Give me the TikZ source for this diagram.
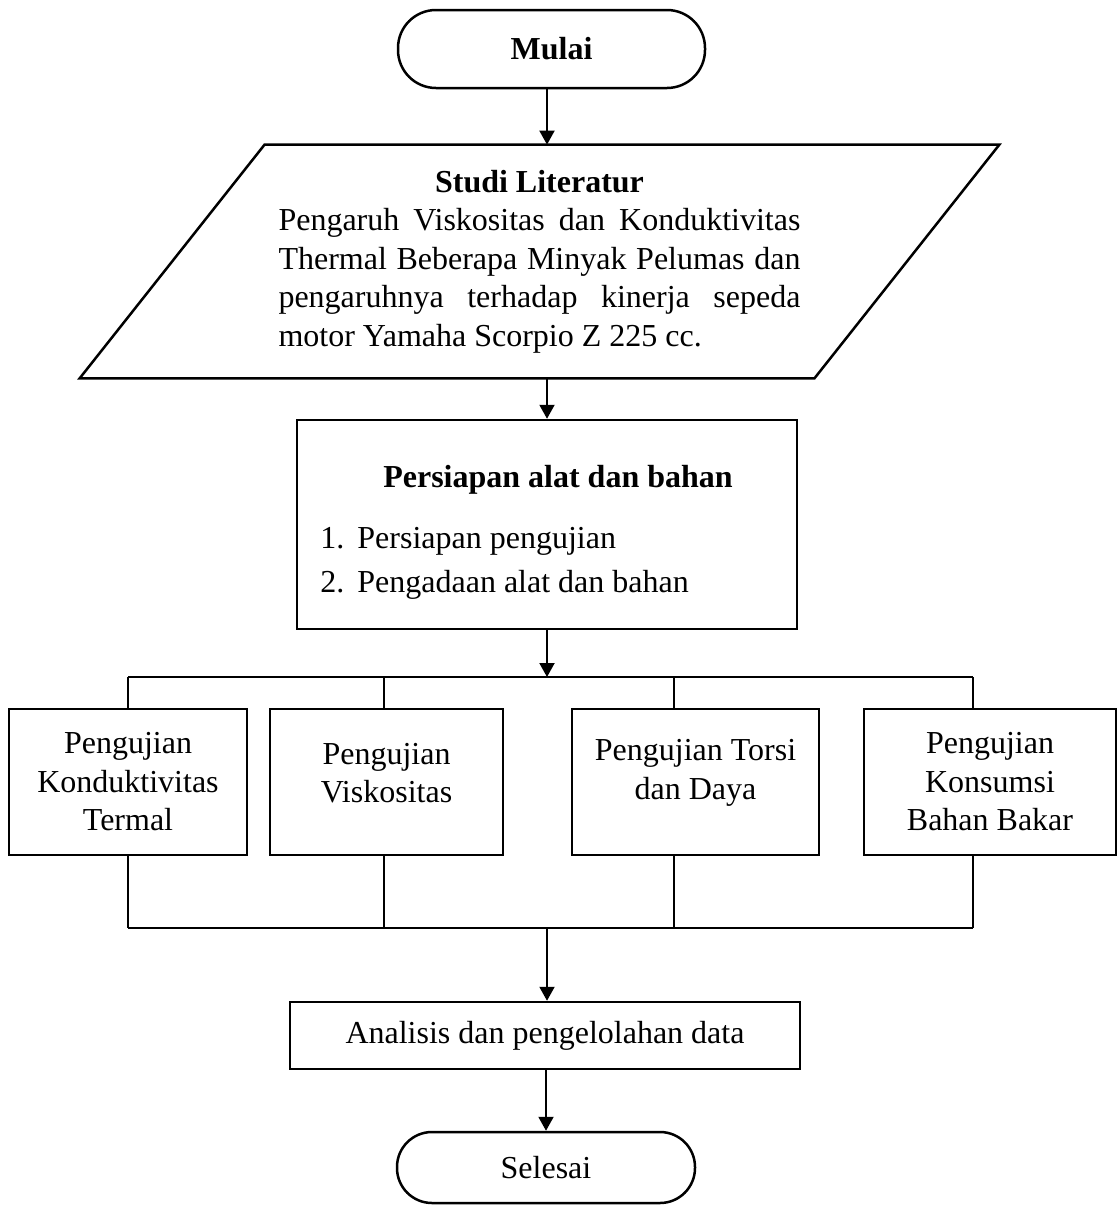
\documentclass[tikz,border=0pt]{standalone}
\usepackage{fontspec}
\setmainfont{Liberation Serif}
\usetikzlibrary{arrows.meta,positioning}

\begin{document}
\begin{tikzpicture}[x=0.5pt,y=-0.5pt,
    font=\fontsize{16pt}{19.25pt}\selectfont,
    terminal/.style={draw,line width=1.25pt,rounded corners=#1},
    box/.style={draw,line width=1.25pt},
    txt/.style={inner sep=0pt},
    arrow/.style={line width=1pt,-{Triangle[width=7.5pt,length=7pt]}},
    branch/.style={line width=0.8pt}]
    \useasboundingbox (0,0) rectangle (1118,1205);

    \node[terminal=19pt,minimum width=153.5pt,minimum height=39pt] (mulai) at (551.5,49) {\bfseries Mulai};

    \node[minimum width=367pt,minimum height=116.5pt,text width=261pt,align=justify] (lit) at (539.5,261.5)
        {{\centering\bfseries Studi Literatur\par}
        Pengaruh Viskositas dan Konduktivitas\linebreak
        Thermal Beberapa Minyak Pelumas dan\linebreak
        pengaruhnya terhadap kinerja sepeda\linebreak
        motor Yamaha Scorpio Z 225 cc.};
    \draw[box] ([xshift=46.25pt]lit.north west) -- ([xshift=46.25pt]lit.north east)
        -- ([xshift=-46.25pt]lit.south east) -- ([xshift=-46.25pt]lit.south west) -- cycle;

    \node[box,minimum width=250pt,minimum height=104.5pt] (prep) at (547,524.5) {};
    \node[txt,anchor=base] (preptitle) at (558,487) {\bfseries Persiapan alat dan bahan};
    \node[txt,anchor=base west] (item1) at (320,548) {\makebox[18.5pt][l]{1.}Persiapan pengujian};
    \node[txt,anchor=base west] (item2) at (320,592) {\makebox[18.5pt][l]{2.}Pengadaan alat dan bahan};

    % kotak pengujian
    \node[box,minimum width=119pt,minimum height=73pt] (uji1) at (128,782) {};
    \node[box,minimum width=116.5pt,minimum height=73pt] (uji2) at (386.5,782) {};
    \node[box,minimum width=123.5pt,minimum height=73pt] (uji3) at (695.5,782) {};
    \node[box,minimum width=126pt,minimum height=73pt] (uji4) at (990,782) {};
    \node[align=center] (uji1txt) at (uji1) {Pengujian\\Konduktivitas\\Termal};
    \node[align=center] (uji2txt) at (386.5,773) {Pengujian\\Viskositas};
    \node[align=center] (uji3txt) at (695.5,773) {Pengujian Torsi\\dan Daya};
    \node[align=center] (uji4txt) at (uji4) {Pengujian\\Konsumsi\\Bahan Bakar};

    \node[box,minimum width=255pt,minimum height=33.5pt] (analisis) at (545,1035.5) {Analisis dan pengelolahan data};
    \node[terminal=17.5pt,minimum width=149pt,minimum height=35.5pt] (selesai) at (546,1167.5) {Selesai};

    \coordinate (up1) at (128,677);
    \coordinate (up2) at (384,677);
    \coordinate (up3) at (674,677);
    \coordinate (up4) at (973,677);
    \coordinate (down1) at (128,928);
    \coordinate (down2) at (384,928);
    \coordinate (down3) at (674,928);
    \coordinate (down4) at (973,928);
    \coordinate (split) at (547,677);
    \coordinate (join) at (547,928);

    \draw[arrow] (mulai.south -| prep.north) -- (lit.north -| prep.north);
    \draw[arrow] (lit.south -| prep.north) -- (prep.north);
    \draw[arrow] (prep.south) -- (split);

    \draw[branch] (up1) -- (up4);
    \draw[branch] (up1) -- (up1 |- uji1.north);
    \draw[branch] (up2) -- (up2 |- uji2.north);
    \draw[branch] (up3) -- (up3 |- uji3.north);
    \draw[branch] (up4) -- (up4 |- uji4.north);
    \draw[branch] (down1 |- uji1.south) -- (down1);
    \draw[branch] (down2 |- uji2.south) -- (down2);
    \draw[branch] (down3 |- uji3.south) -- (down3);
    \draw[branch] (down4 |- uji4.south) -- (down4);
    \draw[branch] (down1) -- (down4);

    \draw[arrow] (join) -- (join |- analisis.north);
    \draw[arrow] (analisis.south -| selesai.north) -- (selesai.north);
\end{tikzpicture}
\end{document}
